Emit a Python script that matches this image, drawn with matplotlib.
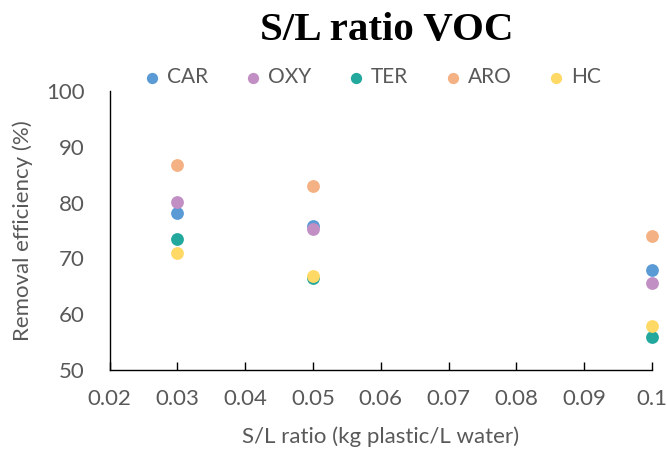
import matplotlib
matplotlib.use("Agg")
import matplotlib.pyplot as plt

# removal efficiency (%) per VOC group at each solid/liquid ratio
sl_ratio = [0.03, 0.05, 0.1]
groups = ["CAR", "OXY", "TER", "ARO", "HC"]
car = [78.1, 75.8, 68.0]
oxy = [80.1, 75.3, 65.6]
ter = [73.4, 66.5, 55.9]
aro = [86.7, 82.9, 74.1]
hc = [71.0, 66.9, 57.9]
colours = ["#5b9bd5", "#c28fc4", "#23a89e", "#f4b183", "#ffd966"]

GREY = "#595959"
plt.rcParams["font.family"] = ["Lato", "DejaVu Sans"]

fig = plt.figure(figsize=(6.67, 4.54), dpi=100)
ax = fig.add_axes([109.5 / 667, 1 - 370 / 454, (652 - 109.5) / 667, (370 - 91) / 454])

for name, vals, c in zip(groups, [car, oxy, ter, aro, hc], colours):
    ax.scatter(sl_ratio, vals, s=85, color=c, label=name, zorder=3,
               linewidths=0, clip_on=False)

ax.set_xlim(0.02, 0.1)
ax.set_ylim(50, 100)
ax.set_xticks([0.02, 0.03, 0.04, 0.05, 0.06, 0.07, 0.08, 0.09, 0.1])
ax.set_xticklabels(["0.02", "0.03", "0.04", "0.05", "0.06", "0.07", "0.08", "0.09", "0.1"])
ax.set_yticks([50, 60, 70, 80, 90, 100])

for side in ("top", "right"):
    ax.spines[side].set_visible(False)
for side in ("left", "bottom"):
    ax.spines[side].set_color("black")
    ax.spines[side].set_linewidth(1.0)
ax.tick_params(axis="x", direction="in", length=6, width=1, colors="black",
               labelcolor=GREY, labelsize=16, pad=14)
ax.tick_params(axis="y", length=0, labelcolor=GREY, labelsize=16, pad=18)

ax.set_xlabel("S/L ratio (kg plastic/L water)", fontsize=16, color=GREY, labelpad=12)
ax.set_ylabel("Removal efficiency (%)", fontsize=16, color=GREY, labelpad=9)

fig.text(0.58, 0.932, "S/L ratio VOC", ha="center", va="center",
         fontsize=29.5, fontweight="bold", family="Liberation Serif")
fig.legend(loc="center left", bbox_to_anchor=(0.215, 0.83), ncol=5, frameon=False,
           fontsize=15, labelcolor=GREY, handlelength=0.8, handletextpad=0.32,
           columnspacing=1.75, markerscale=0.88, borderaxespad=0, borderpad=0)

fig.savefig("out.png", dpi=100)
